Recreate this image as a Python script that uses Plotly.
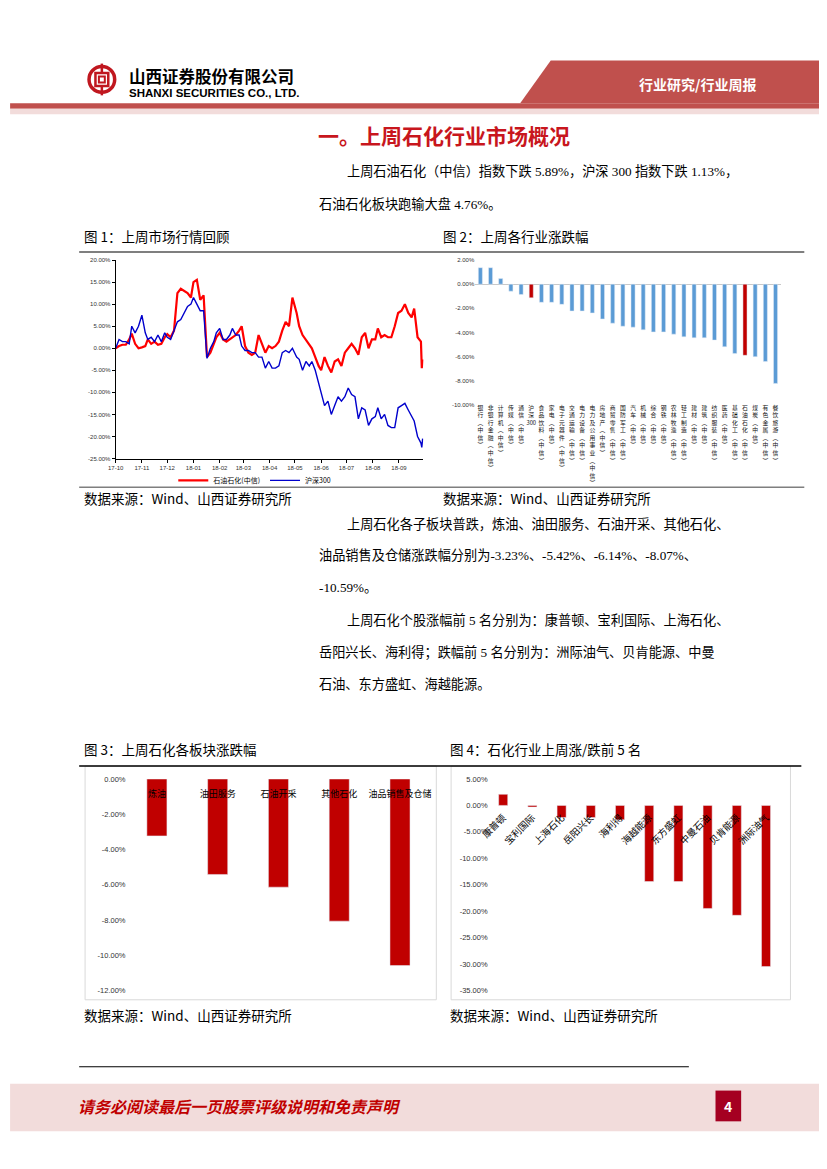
import re
import plotly.graph_objects as go

PAGE_W, PAGE_H = 827, 1169
OX, OY = 8, 8  # default body margin of the html page
W, H = PAGE_W - OX, PAGE_H - OY


def px(x):
    return (x - OX) / W


def py(y):
    return 1 - (y - OY) / H


# ---------------- data ----------------
line_dates = [
    "2017-10-01", "2017-10-05", "2017-10-09", "2017-10-13", "2017-10-17", "2017-10-20", "2017-10-24", "2017-10-28", "2017-11-01", "2017-11-05",
    "2017-11-08", "2017-11-12", "2017-11-16", "2017-11-20", "2017-11-24", "2017-11-28", "2017-12-01", "2017-12-05", "2017-12-09", "2017-12-13",
    "2017-12-17", "2017-12-21", "2017-12-25", "2017-12-29", "2018-01-01", "2018-01-05", "2018-01-09", "2018-01-13", "2018-01-17", "2018-01-21",
    "2018-01-25", "2018-01-28", "2018-02-01", "2018-02-05", "2018-02-09", "2018-02-13", "2018-02-16", "2018-02-20", "2018-02-24", "2018-02-27",
    "2018-03-03", "2018-03-07", "2018-03-11", "2018-03-15", "2018-03-19", "2018-03-23", "2018-03-27", "2018-03-31", "2018-04-04", "2018-04-08",
    "2018-04-12", "2018-04-16", "2018-04-20", "2018-04-24", "2018-04-28", "2018-05-03", "2018-05-06", "2018-05-10", "2018-05-14", "2018-05-18",
    "2018-05-21", "2018-05-25", "2018-05-29", "2018-06-01", "2018-06-05", "2018-06-09", "2018-06-13", "2018-06-17", "2018-06-21", "2018-06-25",
    "2018-06-29", "2018-07-03", "2018-07-07", "2018-07-11", "2018-07-15", "2018-07-19", "2018-07-23", "2018-07-27", "2018-07-31", "2018-08-04",
    "2018-08-07", "2018-08-11", "2018-08-15", "2018-08-19", "2018-08-23", "2018-08-27", "2018-08-31", "2018-09-04", "2018-09-08", "2018-09-12",
    "2018-09-16", "2018-09-19", "2018-09-23", "2018-09-27", "2018-09-28", "2018-09-29",
]
petro_index = [
    0, 0.5, 0.8, 0.8, 2.0, 3.3, 1.0, 0.0, 0.2, 0.5,
    2.0, 1.0, 1.5, 0.8, 1.0, 2.5, 3.2, 2.5, 4.0, 12.5,
    13.5, 13.0, 12.5, 11.5, 15.0, 15.5, 11.0, 12.0, -2.0, -1.0,
    1.0, 2.5, 3.5, 2.0, 1.5, 2.0, 2.5, 3.0, 4.0, 5.0,
    0.5, -1.0, -1.5, -1.0, 3.0, 1.0, -1.0, 0.5, 0.0, 0.5,
    1.5, 4.0, 6.0, 5.0, 11.5, 8.0, 5.0, 3.0, 2.0, 1.0,
    0.0, -2.0, -4.0, -5.0, -2.0, -4.0, -5.5, -3.0, -2.5, -4.0,
    -1.0, 0.0, 1.0, 0.0, -1.5, 2.5, 3.5, 0.0, 2.0, 2.0,
    4.5, 2.5, 3.0, 2.5, 2.5, 5.0, 8.0, 8.5, 10.0, 8.0,
    7.0, 9.0, 2.5, 1.5, -4.5, -2.5,
]
hs300_index = [
    0, 2.0, 1.5, 1.5, 1.0, 5.0, 3.5, 5.0, 7.5, 3.5,
    2.0, 2.5, 1.5, 3.0, 1.5, 3.5, 2.5, 2.0, 4.0, 6.0,
    6.5, 8.0, 9.5, 10.0, 11.5, 10.0, 8.5, 8.5, -2.3, 0.0,
    1.5, 3.5, 4.5, 2.0, 2.0, 3.0, 4.5, 3.0, 3.0, 0.5,
    -0.5, -0.5, -1.0, -1.0, -2.0, -2.0, -4.5, -3.0, -4.5, -4.5,
    -4.0, -1.0, -0.5, -1.0, 0.0, -2.0, -2.5, -5.0, -3.0, -4.0,
    -3.0, -5.0, -8.0, -10.0, -13.0, -12.0, -15.0, -13.0, -11.0, -12.0,
    -11.0, -9.0, -10.5, -11.0, -16.0, -13.5, -14.0, -17.5, -16.0, -15.5,
    -13.5, -16.0, -15.0, -17.5, -18.0, -18.0, -13.5, -13.0, -12.5, -14.0,
    -15.5, -16.5, -20.0, -21.5, -22.5, -20.5,
]
line_names = ["石油石化(中信)", "沪深300"]
line_ticks = [20, 15, 10, 5, 0, -5, -10, -15, -20, -25]

industries = [
    "银行(中信)", "非银行金融(中信)", "计算机(中信)", "传媒(中信)", "通信(中信)", "沪深300",
    "食品饮料(中信)", "家电(中信)", "电子元器件(中信)", "交通运输(中信)", "电力设备(中信)",
    "电力及公用事业(中信)", "房地产(中信)", "商贸零售(中信)", "国防军工(中信)", "汽车(中信)",
    "机械(中信)", "综合(中信)", "钢铁(中信)", "农林牧渔(中信)", "轻工制造(中信)", "建材(中信)",
    "建筑(中信)", "纺织服装(中信)", "医药(中信)", "基础化工(中信)", "石油石化(中信)", "煤炭(中信)",
    "有色金属(中信)", "餐饮旅游(中信)",
]
industry_chg = [
    1.37, 1.37, 0.47, -0.58, -0.85, -1.13, -1.50, -1.50, -1.67, -2.22,
    -2.22, -2.38, -2.88, -3.23, -3.48, -3.56, -3.78, -3.95, -3.95, -4.14,
    -4.36, -4.44, -4.44, -4.63, -5.18, -5.75, -5.89, -6.00, -6.41, -8.22,
]
highlighted = ["沪深300", "石油石化(中信)"]
industry_ticks = [2, 0, -2, -4, -6, -8, -10]

sectors = ["炼油", "油田服务", "石油开采", "其他石化", "油品销售及仓储"]
sector_chg = [-3.23, -5.42, -6.14, -8.07, -10.59]
sector_ticks = [0, -2, -4, -6, -8, -10, -12]

stocks = ["康普顿", "宝利国际", "上海石化", "岳阳兴长", "海利得",
          "海越能源", "东方盛虹", "中曼石油", "贝肯能源", "洲际油气"]
stock_chg = [2.1, -0.3, -2.3, -2.3, -2.7, -14.4, -14.4, -19.5, -20.8, -30.5]
stock_ticks = [5, 0, -5, -10, -15, -20, -25, -30, -35]


def pct_labels(vals):
    return [f"{v:.2f}%" for v in vals]


def vertical(s):
    s = s.replace("(", "︵").replace(")", "︶")
    return "<br>".join(re.findall(r"\d+|.", s))


CJK = "Noto Sans CJK SC, Noto Sans, sans-serif"
SERIF = "Liberation Serif, DejaVu Serif, Noto Sans CJK SC, serif"
SANS = "Liberation Sans, Arial, sans-serif"
RED = "#C00000"
BLUE_BAR = "#5B9BD5"

fig = go.Figure()

fig.add_trace(go.Scatter(x=line_dates, y=petro_index, mode="lines", name=line_names[0],
                         line=dict(color="#FF0000", width=2.2), xaxis="x", yaxis="y"))
fig.add_trace(go.Scatter(x=line_dates, y=hs300_index, mode="lines", name=line_names[1],
                         line=dict(color="#0000CC", width=1.4), xaxis="x", yaxis="y"))

fig.add_trace(go.Bar(x=industries, y=industry_chg, width=0.4, showlegend=False,
                     marker=dict(color=[RED if c in highlighted else BLUE_BAR for c in industries]),
                     xaxis="x2", yaxis="y2"))

fig.add_trace(go.Bar(x=sectors, y=sector_chg, width=0.33, showlegend=False,
                     marker=dict(color=RED), xaxis="x3", yaxis="y3"))

fig.add_trace(go.Bar(x=stocks, y=stock_chg, width=0.31, showlegend=False,
                     marker=dict(color=RED), xaxis="x4", yaxis="y4"))

tickfont_small = dict(size=6, color="#333333", family=SANS)

fig.update_layout(
    width=W, height=H, margin=dict(l=0, r=0, t=0, b=0),
    paper_bgcolor="white", plot_bgcolor="rgba(0,0,0,0)",
    font=dict(family=CJK, color="#000000"),
    showlegend=True,
    legend=dict(orientation="h", x=px(248), xanchor="center", y=py(480), yanchor="middle",
                font=dict(size=7, family=CJK), bgcolor="rgba(0,0,0,0)", itemwidth=30),
    xaxis=dict(domain=[px(107), px(419)], anchor="y", type="date",
               range=["2017-10-01", "2018-09-30"], tickformat="%y-%m", dtick="M1",
               tick0="2017-10-01", ticks="outside", ticklen=3, tickcolor="#000",
               showline=True, linecolor="#000", linewidth=1, showgrid=False, zeroline=False,
               tickfont=tickfont_small),
    yaxis=dict(domain=[py(458), py(258)], anchor="x", range=[-25, 20],
               tickvals=line_ticks, ticktext=pct_labels(line_ticks),
               ticks="outside", ticklen=3, tickcolor="#000",
               showline=True, linecolor="#000", linewidth=1, showgrid=False, zeroline=False,
               tickfont=tickfont_small),
    xaxis2=dict(domain=[px(471.5), px(781)], anchor="y2", type="category",
                tickvals=industries, ticktext=[vertical(c) for c in industries], tickangle=0,
                tickfont=dict(size=5.8, color="#111", family=CJK), ticks="", showline=False,
                ticklabelstandoff=-2,
                showgrid=False, zeroline=False),
    yaxis2=dict(domain=[py(404), py(258)], anchor="x2", range=[-10, 2],
                tickvals=industry_ticks, ticktext=pct_labels(industry_ticks),
                showgrid=False, zeroline=True, zerolinecolor="#c8c8c8", zerolinewidth=1,
                showline=False, tickfont=tickfont_small),
    xaxis3=dict(domain=[px(118), px(426)], anchor="free", position=py(781), side="bottom",
                type="category", ticks="outside", ticklen=6, tickcolor="rgba(0,0,0,0)",
                tickfont=dict(size=9, color="#000", family=CJK), showline=False,
                showgrid=False, zeroline=False),
    yaxis3=dict(domain=[py(994), py(781)], anchor="x3", range=[-12, 0],
                tickvals=sector_ticks, ticktext=pct_labels(sector_ticks),
                showgrid=False, zeroline=False, showline=False,
                tickfont=dict(size=7.5, color="#333", family=SANS)),
    xaxis4=dict(domain=[px(485), px(781)], anchor="free", position=py(807.6), side="bottom",
                type="category", tickangle=-45, ticks="outside", ticklen=2,
                tickcolor="rgba(0,0,0,0)",
                tickfont=dict(size=9.5, color="#000", family=CJK), showline=False,
                showgrid=False, zeroline=False),
    yaxis4=dict(domain=[py(994), py(781)], anchor="x4", range=[-35, 5],
                tickvals=stock_ticks, ticktext=pct_labels(stock_ticks),
                showgrid=False, zeroline=False, showline=False,
                tickfont=dict(size=7.5, color="#333", family=SANS)),
)

shapes = []


def rect(x0, y0, x1, y1, fill=None, line=None, lw=1):
    shapes.append(dict(type="rect", xref="paper", yref="paper",
                       x0=px(x0), x1=px(x1), y0=py(y1), y1=py(y0),
                       fillcolor=fill if fill else "rgba(0,0,0,0)",
                       line=dict(color=line if line else "rgba(0,0,0,0)", width=lw),
                       layer="below"))


def hline(x0, x1, y, color, lw):
    shapes.append(dict(type="line", xref="paper", yref="paper",
                       x0=px(x0), x1=px(x1), y0=py(y), y1=py(y),
                       line=dict(color=color, width=lw)))


# header
shapes.append(dict(type="path", xref="paper", yref="paper",
                   path=f"M {px(517)},{py(100)} L {px(548)},{py(57)} L {px(827)},{py(57)} L {px(827)},{py(100)} Z",
                   fillcolor="#C0504D", line=dict(width=0), layer="below"))
rect(0, 100, 827, 105.5, fill="#C0504D")
rect(0, 105.5, 827, 111, fill="#F2DCDB")
# logo
shapes.append(dict(type="circle", xref="paper", yref="paper",
                   x0=px(80), x1=px(106), y0=py(89), y1=py(63),
                   line=dict(color="#C0171F", width=3.5)))
rect(86.5, 69.5, 99.5, 82.5, line="#C0171F", lw=2.5)
rect(90, 73, 96, 79, line="#C0171F", lw=2)
shapes.append(dict(type="line", xref="paper", yref="paper", x0=px(93), x1=px(93),
                   y0=py(60), y1=py(69.5), line=dict(color="#C0171F", width=2.5)))
shapes.append(dict(type="line", xref="paper", yref="paper", x0=px(93), x1=px(93),
                   y0=py(82.5), y1=py(92), line=dict(color="#C0171F", width=2.5)))

# figure frames
hline(70, 805, 250, "#7F7F7F", 2)
hline(70, 805, 487, "#7F7F7F", 1.5)
hline(70, 802, 768, "#000000", 1.5)
rect(76, 768, 432, 1003.5, line="#D9D9D9", lw=1)
rect(447, 768, 791, 1003.5, line="#D9D9D9", lw=1)

# footer
hline(70, 688, 1071, "#000000", 1)
rect(0, 1088, 827, 1136, fill="#F2DCDB")
rect(715, 1095, 741, 1126, fill="#A50021")

fig.update_layout(shapes=shapes)

annotations = []


def text(x, y, s, size, color="#000", family=CJK, anchor="left", bold=False):
    if bold:
        s = f"<b>{s}</b>"
    annotations.append(dict(xref="paper", yref="paper", x=px(x), y=py(y), text=s,
                            showarrow=False, xanchor=anchor, yanchor="middle",
                            borderpad=0, font=dict(size=size, color=color, family=family)))


text(119, 73, "山西证券股份有限公司", 16.5, bold=True)
text(119, 89.5, "SHANXI SECURITIES CO., LTD.", 11.5, family=SANS, bold=True)
text(697, 81, "行业研究/行业周报", 14, color="#FFFFFF", anchor="center", bold=True)

text(311, 132, "一。上周石化行业市场概况", 21, color="#C8161D", bold=True)
text(340, 169, "上周石油石化（中信）指数下跌 5.89%，沪深 300 指数下跌 1.13%，", 13.2, family=SERIF)
text(312, 201, "石油石化板块跑输大盘 4.76%。", 13.2, family=SERIF)

text(74, 234, "图 1：上周市场行情回顾", 13.5)
text(438, 234, "图 2：上周各行业涨跌幅", 13.5)
text(74, 498, "数据来源：Wind、山西证券研究所", 13.5)
text(438, 498, "数据来源：Wind、山西证券研究所", 13.5)

text(340, 525, "上周石化各子板块普跌，炼油、油田服务、石油开采、其他石化、", 13.2, family=SERIF)
text(312, 556, "油品销售及仓储涨跌幅分别为-3.23%、-5.42%、-6.14%、-8.07%、", 13.2, family=SERIF)
text(312, 588, "-10.59%。", 13.2, family=SERIF)
text(340, 621, "上周石化个股涨幅前 5 名分别为：康普顿、宝利国际、上海石化、", 13.2, family=SERIF)
text(312, 654, "岳阳兴长、海利得；跌幅前 5 名分别为：洲际油气、贝肯能源、中曼", 13.2, family=SERIF)
text(312, 686, "石油、东方盛虹、海越能源。", 13.2, family=SERIF)

text(74, 751, "图 3：上周石化各板块涨跌幅", 13.5)
text(445, 751, "图 4：石化行业上周涨/跌前 5 名", 13.5)
text(74, 1019, "数据来源：Wind、山西证券研究所", 13.5)
text(445, 1019, "数据来源：Wind、山西证券研究所", 13.5)

text(68, 1111, "<i>请务必阅读最后一页股票评级说明和免责声明</i>", 16, color="#C00000", bold=True)
text(728, 1110.5, "4", 14, color="#FFFFFF", anchor="center", bold=True)

fig.update_layout(annotations=annotations)

fig.write_html("out.html")
